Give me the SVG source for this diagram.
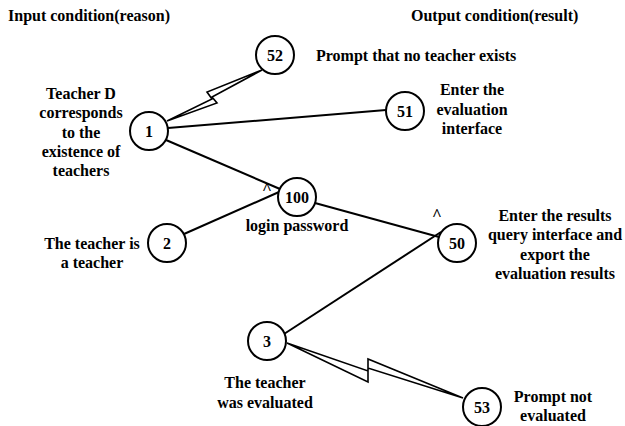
<svg xmlns="http://www.w3.org/2000/svg" width="625" height="426" viewBox="0 0 625 426">
  <style>
    .node circle { fill: #ffffff; stroke: #000000; stroke-width: 2; }
    .num { font-family: "Liberation Serif", "Times New Roman", serif; font-weight: bold; font-size: 16px; text-anchor: middle; fill: #000; }
    .lbl { font-family: "Liberation Serif", "Times New Roman", serif; font-weight: bold; font-size: 16px; fill: #000; }
    .c { text-anchor: middle; }
    .edge { stroke: #000000; stroke-width: 2; fill: none; }
    .bolt { stroke: #000000; stroke-width: 1.6; fill: none; stroke-linejoin: miter; }
  </style>
  <rect width="625" height="426" fill="#ffffff"/>

  <!-- headings -->
  <text class="lbl" x="8" y="21">Input condition(reason)</text>
  <text class="lbl" x="411" y="21">Output condition(result)</text>

  <!-- connectors -->
  <g id="connectors">
    <line class="edge" x1="168" y1="128" x2="386" y2="110"/>
    <line class="edge" x1="166" y1="140" x2="280" y2="189"/>
    <line class="edge" x1="184" y1="234" x2="279" y2="192"/>
    <line class="edge" x1="315" y1="203" x2="439" y2="237"/>
    <line class="edge" x1="284" y1="334" x2="441" y2="232"/>
    <!-- lightning links -->
    <polygon class="bolt" points="167,121 217,103 212,97 262,70 207,92 212,99"/>
    <polygon class="bolt" points="287,343 368,382 368,368 463,398 368,359 368,371"/>
    <!-- AND marks -->
    <text class="lbl c" x="267" y="194" style="font-size:17px">^</text>
    <text class="lbl c" x="437" y="220" style="font-size:17px">^</text>
  </g>

  <g id="n1" class="node">
    <circle cx="149" cy="131" r="19"/>
    <text class="num" x="149" y="137">1</text>
    <text class="lbl c" x="81" y="99">Teacher D</text>
    <text class="lbl c" x="81" y="118">corresponds</text>
    <text class="lbl c" x="81" y="138">to the</text>
    <text class="lbl c" x="81" y="157">existence of</text>
    <text class="lbl c" x="81" y="176">teachers</text>
  </g>

  <g id="n2" class="node">
    <circle cx="167" cy="243" r="19"/>
    <text class="num" x="167" y="249">2</text>
    <text class="lbl c" x="92" y="249">The teacher is</text>
    <text class="lbl c" x="92" y="268">a teacher</text>
  </g>

  <g id="n3" class="node">
    <circle cx="267" cy="341" r="19"/>
    <text class="num" x="267" y="347">3</text>
    <text class="lbl c" x="265" y="388">The teacher</text>
    <text class="lbl c" x="265" y="408">was evaluated</text>
  </g>

  <g id="n100" class="node">
    <circle cx="297" cy="197" r="19"/>
    <text class="num" x="297" y="203">100</text>
    <text class="lbl c" x="297" y="231">login password</text>
  </g>

  <g id="n50" class="node">
    <circle cx="457" cy="243" r="19"/>
    <text class="num" x="457" y="249">50</text>
    <text class="lbl c" x="555" y="221">Enter the results</text>
    <text class="lbl c" x="555" y="240">query interface and</text>
    <text class="lbl c" x="555" y="260">export the</text>
    <text class="lbl c" x="555" y="279">evaluation results</text>
  </g>

  <g id="n51" class="node">
    <circle cx="405" cy="111" r="19"/>
    <text class="num" x="405" y="117">51</text>
    <text class="lbl c" x="472" y="95">Enter the</text>
    <text class="lbl c" x="472" y="115">evaluation</text>
    <text class="lbl c" x="472" y="134">interface</text>
  </g>

  <g id="n52" class="node">
    <circle cx="275" cy="55" r="19"/>
    <text class="num" x="275" y="61">52</text>
    <text class="lbl" x="316" y="61">Prompt that no teacher exists</text>
  </g>

  <g id="n53" class="node">
    <circle cx="482" cy="407" r="19"/>
    <text class="num" x="482" y="413">53</text>
    <text class="lbl c" x="553" y="402">Prompt not</text>
    <text class="lbl c" x="553" y="421">evaluated</text>
  </g>
</svg>
